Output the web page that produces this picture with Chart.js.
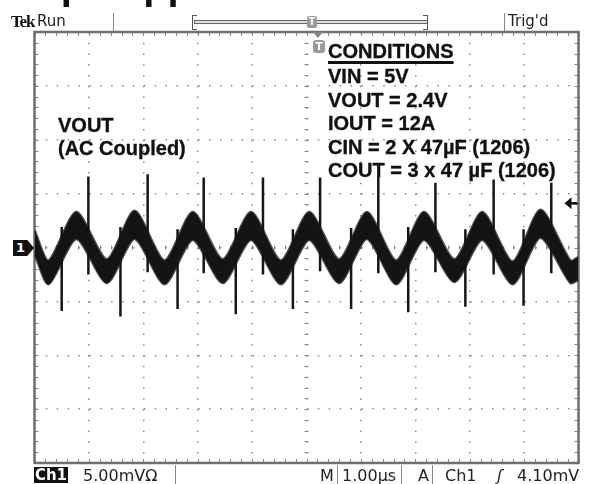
<!DOCTYPE html>
<html>
<head>
<meta charset="utf-8">
<script src="https://cdn.jsdelivr.net/npm/chart.js@4.4.1/dist/chart.umd.min.js"></script>
<style>
  html, body { margin: 0; padding: 0; background: #fff; }
  #wrap { position: relative; width: 589px; height: 484px; overflow: hidden; font-family: "Liberation Sans", Arial, sans-serif; }
  #wrap canvas { position: absolute; left: 0; top: 0; }
  .t { position: absolute; white-space: nowrap; color: #111; }
  .note { font-weight: bold; font-size: 20px; line-height: 20px; -webkit-text-stroke: 0.35px #111; }
  .ui { font-family: "DejaVu Sans", sans-serif; font-size: 15px; line-height: 17px; color: #222; }
  .bot { font-size: 16px; line-height: 17px; }
  .sep { position: absolute; width: 1px; background: #888; }
</style>
</head>
<body>
<div id="wrap">
  <canvas id="scope" width="589" height="484"></canvas>

  <!-- clipped title -->
  <div class="t" style="left:-8px; top:-35px; font:bold 40px/40px 'Liberation Sans', Arial, sans-serif; word-spacing:-31px;">Output Ripple</div>

  <!-- top status strip -->
  <div class="t" style="left:11px; top:13px; font:bold 17px/18px 'Liberation Serif', serif; letter-spacing:-1.2px;">Tek</div>
  <div class="t ui" style="left:37px; top:13px;">Run</div>
  <div class="sep" style="left:113px; top:13px; height:18px;"></div>
  <div style="position:absolute; left:192px; top:15px; width:4px; height:13px; border:1.5px solid #555; border-right:none;"></div>
  <div style="position:absolute; left:194px; top:20px; width:232px; height:2px; border:1px solid #666; background:#ddd;"></div>
  <div style="position:absolute; left:423px; top:15px; width:4px; height:13px; border:1.5px solid #555; border-left:none;"></div>
  <div class="t" style="left:307px; top:16px; width:10px; height:12px; background:#999; color:#fff; font:bold 10px/12px 'DejaVu Sans'; text-align:center; border-radius:2px;">T</div>
  <div class="sep" style="left:504px; top:13px; height:18px;"></div>
  <div class="t ui" style="left:508px; top:13px;">Trig'd</div>

  <!-- trigger position icon -->
  <div class="t" style="left:313px; top:40px; width:12px; height:13px; background:#999; color:#fff; font:bold 11px/13px 'DejaVu Sans'; text-align:center; border-radius:3px;">T</div>

  <!-- channel 1 ground marker -->
  <div class="t" style="left:13px; top:240px; width:21px; height:16px; background:#111; color:#fff; font:bold 13px/16px 'DejaVu Sans'; padding-left:3px; box-sizing:border-box; clip-path:polygon(0 0, 68% 0, 100% 50%, 68% 100%, 0 100%);">1</div>

  <!-- annotations -->
  <div class="t note" style="left:328px; top:41px; text-decoration:underline; text-decoration-thickness:2.5px; text-underline-offset:3px;">CONDITIONS</div>
  <div class="t note" style="left:328px; top:66px;">VIN = 5V</div>
  <div class="t note" style="left:328px; top:90px;">VOUT = 2.4V</div>
  <div class="t note" style="left:328px; top:113px;">IOUT = 12A</div>
  <div class="t note" style="left:328px; top:137px;">CIN = 2 X 47µF (1206)</div>
  <div class="t note" style="left:328px; top:160px;">COUT = 3 x 47 µF (1206)</div>
  <div class="t note" style="left:58px; top:115px;">VOUT</div>
  <div class="t note" style="left:58px; top:138px;">(AC Coupled)</div>

  <!-- bottom status strip -->
  <div class="t" style="left:34px; top:467px; width:34px; height:16px; background:#111; color:#fff; font:bold 15px/16px 'DejaVu Sans'; text-align:center;">Ch1</div>
  <div class="t ui bot" style="left:83px; top:467px;">5.00mVΩ</div>
  <div class="sep" style="left:175px; top:465px; height:19px;"></div>
  <div class="t ui bot" style="left:320px; top:467px;">M</div>
  <div class="sep" style="left:337px; top:465px; height:19px;"></div>
  <div class="t ui bot" style="left:342px; top:467px;">1.00µs</div>
  <div class="sep" style="left:401px; top:465px; height:19px;"></div>
  <div class="t ui bot" style="left:418px; top:467px;">A</div>
  <div class="sep" style="left:432px; top:465px; height:19px;"></div>
  <div class="t ui bot" style="left:445px; top:467px;">Ch1</div>
  <div class="t ui bot" style="left:497px; top:467px; font-style:italic;">ʃ</div>
  <div class="t ui bot" style="left:517px; top:467px;">4.10mV</div>
</div>

<script>
// Scope settings (µs across, mV up)
const timeDivs = [0, 1, 2, 3, 4, 5, 6, 7, 8, 9, 10];
const voltRange = [-20, 20];
const trigLevel = 4.1;
const trigPos = 5.21;

// Trace envelope: valleys and crests of the ripple band
const traceTime   = [0, 0.26, 0.77, 1.33, 1.84, 2.39, 2.91, 3.46, 3.98, 4.53, 5.05, 5.60, 6.11, 6.65, 7.16, 7.72, 8.23, 8.79, 9.30, 9.85, 10];
const traceTop    = [1.6, -1.2, 3.3, -1.1, 3.4, -1.2, 3.3, -1.1, 3.3, -1.2, 3.3, -1.1, 3.3, -1.2, 3.3, -1.1, 3.3, -1.3, 3.5, -1.2, -0.9];
const traceBottom = [-0.6, -3.4, 0.8, -3.3, 0.8, -3.4, 0.7, -3.3, 0.7, -3.4, 0.7, -3.3, 0.8, -3.4, 0.7, -3.2, 0.7, -3.4, 0.9, -3.3, -3.0];

// Switching spikes
const upSpikeTime   = [0.99, 2.08, 3.11, 4.20, 5.25, 6.32, 7.37, 8.44, 9.50];
const upSpikeHigh   = [6.6, 6.8, 6.5, 6.5, 6.5, 6.6, 6.0, 6.3, 6.0];
const upSpikeLow    = [-2.5, -2.3, -2.4, -2.5, -2.2, -2.4, -2.3, -2.5, -2.4];
const downSpikeTime = [0.50, 1.58, 2.63, 3.70, 4.75, 5.82, 6.87, 7.92, 8.99];
const downSpikeHigh = [1.9, 1.9, 1.7, 1.8, 1.7, 1.8, 1.9, 1.7, 1.7];
const downSpikeLow  = [-5.9, -6.4, -5.7, -6.2, -5.7, -5.7, -6.0, -5.5, -5.4];

const toPoints = (xs, ys) => xs.map((x, i) => ({ x: x, y: ys[i] }));
const spikePoints = (ts, a, b) => {
  const pts = [];
  ts.forEach((t, i) => pts.push({ x: t, y: a[i] }, { x: t, y: b[i] }, { x: t, y: null }));
  return pts;
};

// graticule frame, minor ticks and markers
const scopeFrame = {
  id: "scopeFrame",
  beforeDatasetsDraw(chart) {
    const { ctx, chartArea: a, scales: { x, y } } = chart;
    const cx = x.getPixelForValue(5);
    const cy = y.getPixelForValue(0);
    ctx.save();
    ctx.strokeStyle = "#888";
    ctx.lineWidth = 1;
    ctx.beginPath();
    for (let i = 0; i <= 50; i++) {
      const px = Math.round(x.getPixelForValue(i * 0.2)) + 0.5;
      ctx.moveTo(px, a.top); ctx.lineTo(px, a.top + 4);
      ctx.moveTo(px, a.bottom); ctx.lineTo(px, a.bottom - 4);
      ctx.moveTo(px, cy - 2); ctx.lineTo(px, cy + 2);
    }
    for (let j = 0; j <= 40; j++) {
      const py = Math.round(y.getPixelForValue(voltRange[0] + j)) + 0.5;
      ctx.moveTo(a.left, py); ctx.lineTo(a.left + 4, py);
      ctx.moveTo(a.right, py); ctx.lineTo(a.right - 4, py);
      ctx.moveTo(cx - 2, py); ctx.lineTo(cx + 2, py);
    }
    ctx.stroke();
    ctx.strokeStyle = "#6f6f6f";
    ctx.lineWidth = 2.5;
    ctx.strokeRect(a.left, a.top, a.width, a.height);
    ctx.restore();
  },
  afterDraw(chart) {
    const { ctx, chartArea: a, scales: { x, y } } = chart;
    ctx.save();
    // trigger level arrow
    const ty = y.getPixelForValue(trigLevel);
    ctx.fillStyle = "#111";
    ctx.strokeStyle = "#111";
    ctx.lineWidth = 2.5;
    ctx.beginPath();
    ctx.moveTo(a.right - 14, ty); ctx.lineTo(a.right - 7, ty - 6); ctx.lineTo(a.right - 7, ty + 6);
    ctx.closePath(); ctx.fill();
    ctx.beginPath(); ctx.moveTo(a.right - 8, ty); ctx.lineTo(a.right - 1, ty); ctx.stroke();
    // trigger position triangle on top border
    const tx = x.getPixelForValue(trigPos);
    ctx.fillStyle = "#888";
    ctx.beginPath();
    ctx.moveTo(tx - 5, a.top); ctx.lineTo(tx + 5, a.top); ctx.lineTo(tx, a.top + 6);
    ctx.closePath(); ctx.fill();
    ctx.restore();
  }
};

const band = {
  pointRadius: 0,
  borderColor: "rgba(20,20,20,0.75)",
  borderWidth: 2.5,
  backgroundColor: "#141414",
  tension: 0.25
};

new Chart(document.getElementById("scope"), {
  type: "line",
  data: {
    datasets: [
      Object.assign({ label: "trace top", data: toPoints(traceTime, traceTop), fill: "+1" }, band),
      Object.assign({ label: "trace bottom", data: toPoints(traceTime, traceBottom), fill: false }, band),
      { label: "up spikes", data: spikePoints(upSpikeTime, upSpikeLow, upSpikeHigh), borderColor: "#151515", borderWidth: 2.5, pointRadius: 0, spanGaps: false, fill: false },
      { label: "down spikes", data: spikePoints(downSpikeTime, downSpikeHigh, downSpikeLow), borderColor: "#151515", borderWidth: 2.5, pointRadius: 0, spanGaps: false, fill: false }
    ]
  },
  options: {
    responsive: false,
    animation: false,
    devicePixelRatio: 1,
    layout: { padding: { left: 34.5, right: 10.5, top: 32, bottom: 21 } },
    plugins: { legend: { display: false }, tooltip: { enabled: false } },
    scales: {
      x: {
        type: "linear", min: timeDivs[0], max: timeDivs[timeDivs.length - 1],
        ticks: { display: false, stepSize: 1 },
        grid: { color: "#8a8a8a", lineWidth: 1.5, drawTicks: false },
        border: { display: false, dash: [1.5, 9.27] },
        afterFit(s) { s.height = 0; }
      },
      y: {
        min: voltRange[0], max: voltRange[1],
        ticks: { display: false, stepSize: 5 },
        grid: { color: "#8a8a8a", lineWidth: 1.5, drawTicks: false },
        border: { display: false, dash: [1.5, 9.38] },
        afterFit(s) { s.width = 0; }
      }
    }
  },
  plugins: [scopeFrame]
});
</script>
</body>
</html>
